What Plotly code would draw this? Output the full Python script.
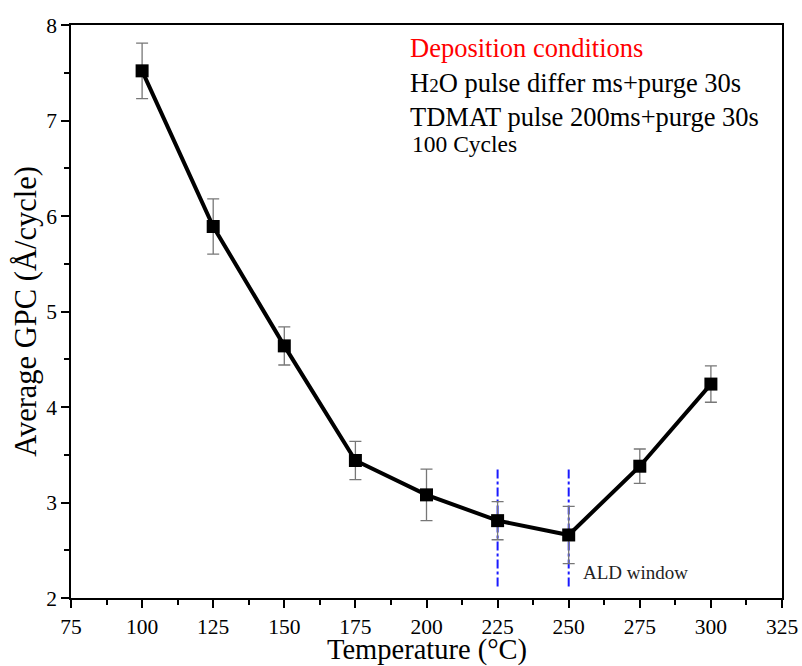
import plotly.graph_objects as go

temperature = [100, 125, 150, 175, 200, 225, 250, 275, 300]
gpc = [7.52, 5.89, 4.64, 3.44, 3.08, 2.81, 2.66, 3.38, 4.24]
gpc_err = [0.29, 0.29, 0.20, 0.20, 0.27, 0.20, 0.30, 0.18, 0.19]

window_x = [225, 250]
window_y = [2.12, 3.36]

x_ticks = [75, 100, 125, 150, 175, 200, 225, 250, 275, 300, 325]
y_ticks = [2, 3, 4, 5, 6, 7, 8]

font_family = "Liberation Serif"

fig = go.Figure()

for wx in window_x:
    fig.add_trace(go.Scatter(
        x=[wx, wx], y=window_y, mode="lines",
        line=dict(color="#1a1aff", width=2, dash="dashdot"),
        showlegend=False, hoverinfo="skip"))

fig.add_trace(go.Scatter(
    x=temperature, y=gpc, mode="lines+markers",
    line=dict(color="black", width=4),
    marker=dict(symbol="square", size=13, color="black"),
    error_y=dict(type="data", array=gpc_err, visible=True,
                 color="#777777", thickness=1.3, width=6),
    showlegend=False))

fig.add_annotation(x=273.5, y=2.27, text="ALD window", showarrow=False,
                   font=dict(family=font_family, size=19, color="#222222"))

lines = [
    ("<span style='color:red'>Deposition conditions</span>", 26.5, 0.960, 0.474),
    ("H<span style='font-size:19px'>2</span>O pulse differ ms+purge 30s", 26.5, 0.899, 0.474),
    ("TDMAT pulse 200ms+purge 30s", 26.5, 0.840, 0.474),
    ("100 Cycles", 23.5, 0.793, 0.477),
]
for txt, sz, yy, xx in lines:
    fig.add_annotation(xref="paper", yref="paper", x=xx, y=yy,
                       xanchor="left", yanchor="middle", text=txt, showarrow=False,
                       font=dict(family=font_family, size=sz, color="black"))

# x-axis title placed just under the tick labels, as in the reference
fig.add_annotation(xref="paper", yref="paper", x=0.5, y=-0.0905,
                   xanchor="center", yanchor="middle", showarrow=False,
                   text="Temperature (°C)",
                   font=dict(family=font_family, size=28.5, color="black"))

axis_common = dict(
    showline=True, linecolor="black", linewidth=1.5, mirror=True,
    ticks="outside", ticklen=8, tickwidth=1.5, tickcolor="black",
    showgrid=False, zeroline=False, automargin=False,
    tickfont=dict(family=font_family, size=21.5, color="black"),
)

fig.update_xaxes(
    range=[75, 325], tickvals=x_ticks,
    minor=dict(dtick=12.5, ticks="outside", ticklen=5, tickwidth=1.5, tickcolor="black"),
    **axis_common)
fig.update_yaxes(
    range=[2, 8], tickvals=y_ticks,
    title=dict(text="Average GPC (Å/cycle)", font=dict(family=font_family, size=30.5, color="black"), standoff=1),
    minor=dict(dtick=0.5, ticks="outside", ticklen=5, tickwidth=1.5, tickcolor="black"),
    **axis_common)

fig.update_layout(
    width=802, height=666,
    margin=dict(l=71, r=20, t=25, b=68),
    plot_bgcolor="white", paper_bgcolor="white",
)

fig.write_html("out.html", config={"displayModeBar": False},
               post_script="document.body.style.margin='0';")
